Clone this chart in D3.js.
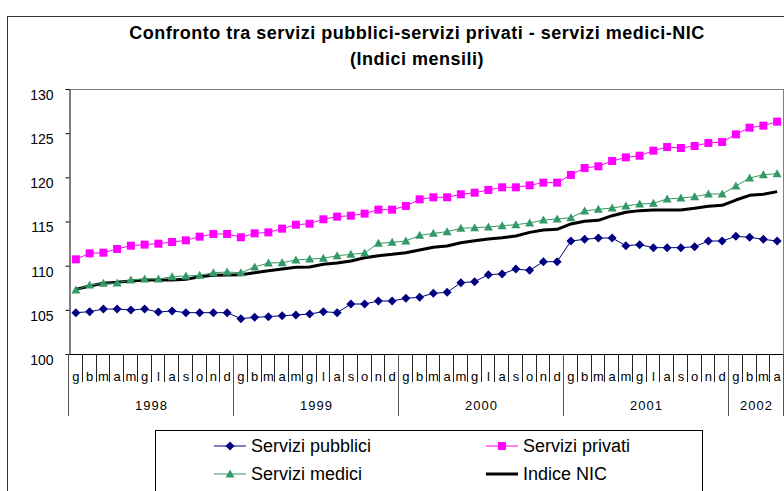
<!DOCTYPE html>
<html>
<head>
<meta charset="utf-8">
<script src="https://cdn.jsdelivr.net/npm/d3@7"></script>
<style>
  body { margin: 0; background: #fff; }
  svg { display: block; }
  text { font-family: "Liberation Sans", Arial, sans-serif; fill: #000; }
</style>
</head>
<body>
<div id="chart"></div>
<script>
// month initials used on the axis, years and how many months each one shows
const monthInitials = ['g', 'b', 'm', 'a', 'm', 'g', 'l', 'a', 's', 'o', 'n', 'd'];
const years = ['1998', '1999', '2000', '2001', '2002'];
const yearMonths = [12, 12, 12, 12, 4];
const yTicks = [100, 105, 110, 115, 120, 125, 130];

// monthly indices, jan 1998 - apr 2002
const pubblici = [
  104.68, 104.79, 105.09, 105.09, 104.98, 105.09, 104.75, 104.87, 104.68, 104.68, 104.68, 104.68,
  104.00, 104.15, 104.23, 104.34, 104.42, 104.53, 104.79, 104.68, 105.66, 105.66, 106.00, 106.00,
  106.30, 106.42, 106.87, 106.98, 108.07, 108.19, 108.98, 109.06, 109.62, 109.47, 110.45, 110.45,
  112.79, 112.98, 113.13, 113.13, 112.26, 112.38, 112.04, 112.04, 112.04, 112.15, 112.79, 112.79,
  113.32, 113.21, 112.98, 112.79
];
const privati = [
  110.72, 111.40, 111.47, 111.89, 112.26, 112.38, 112.49, 112.68, 112.87, 113.28, 113.59, 113.59,
  113.21, 113.66, 113.77, 114.19, 114.64, 114.75, 115.25, 115.55, 115.66, 115.89, 116.34, 116.34,
  116.76, 117.51, 117.74, 117.74, 118.08, 118.26, 118.57, 118.87, 118.87, 119.10, 119.40, 119.40,
  120.27, 121.06, 121.25, 121.85, 122.26, 122.45, 123.02, 123.43, 123.32, 123.55, 123.89, 124.00,
  124.87, 125.62, 125.85, 126.30
];
const medici = [
  107.25, 107.81, 108.00, 108.04, 108.38, 108.49, 108.49, 108.75, 108.83, 108.91, 109.20, 109.28,
  109.20, 109.85, 110.30, 110.34, 110.64, 110.75, 110.83, 111.13, 111.28, 111.43, 112.53, 112.64,
  112.79, 113.43, 113.66, 113.85, 114.23, 114.30, 114.38, 114.53, 114.64, 114.83, 115.17, 115.28,
  115.43, 116.19, 116.38, 116.53, 116.76, 116.98, 117.06, 117.55, 117.66, 117.81, 118.11, 118.11,
  119.02, 119.92, 120.30, 120.41
];
const nic = [
  107.32, 107.70, 108.00, 108.11, 108.26, 108.38, 108.38, 108.38, 108.45, 108.75, 108.91, 108.94,
  108.98, 109.20, 109.43, 109.62, 109.81, 109.85, 110.15, 110.30, 110.53, 110.90, 111.13, 111.28,
  111.47, 111.77, 112.08, 112.23, 112.60, 112.83, 113.02, 113.17, 113.36, 113.77, 114.04, 114.11,
  114.72, 115.02, 115.13, 115.66, 116.04, 116.23, 116.30, 116.30, 116.30, 116.49, 116.72, 116.83,
  117.43, 117.96, 118.08, 118.38
];

(function() {
const width = 784, height = 491;
const plotLeft = 69, plotRight = 784, plotTop = 89, plotBottom = 354;

const svg = d3.select('#chart').append('svg')
  .attr('width', width)
  .attr('height', height);

// outer frame of the chart (runs off the picture on right and bottom)
svg.append('rect')
  .attr('x', 7.5).attr('y', 16.5)
  .attr('width', 900).attr('height', 600)
  .attr('fill', 'none').attr('stroke', '#333').attr('stroke-width', 1);

// title
svg.append('text')
  .attr('x', 417).attr('y', 39)
  .attr('text-anchor', 'middle')
  .attr('font-size', '18px').attr('font-weight', 'bold')
  .attr('letter-spacing', '0.5px')
  .text('Confronto tra servizi pubblici-servizi privati - servizi medici-NIC');
svg.append('text')
  .attr('x', 417).attr('y', 65)
  .attr('text-anchor', 'middle')
  .attr('font-size', '18px').attr('font-weight', 'bold')
  .attr('letter-spacing', '0.5px')
  .text('(Indici mensili)');

let n = pubblici.length;
let x = d3.scaleBand().domain(d3.range(n)).range([plotLeft, plotRight]);
let y = d3.scaleLinear().domain([100, 130]).range([plotBottom, plotTop]);
let cx = i => x(i) + x.bandwidth() / 2;

// plot frame: top and right edges in grey
svg.append('line')
  .attr('x1', plotLeft).attr('x2', plotRight).attr('y1', plotTop + 0.5).attr('y2', plotTop + 0.5)
  .attr('stroke', '#808080');
svg.append('line')
  .attr('x1', plotRight - 0.5).attr('x2', plotRight - 0.5).attr('y1', plotTop).attr('y2', plotBottom)
  .attr('stroke', '#808080');

// y axis
let yAxis = svg.append('g')
  .attr('transform', 'translate(' + (plotLeft + 0.5) + ',0)')
  .call(d3.axisLeft(y).tickValues(yTicks).tickSize(4).tickSizeOuter(0).tickPadding(12));
yAxis.select('.domain').attr('stroke', '#000');
yAxis.selectAll('.tick line').attr('stroke', '#000');
yAxis.selectAll('.tick text')
  .attr('font-size', '14px')
  .attr('font-family', '"Liberation Sans", Arial, sans-serif')
  .attr('transform', 'translate(0,6)');

// x axis: month cells and year groups
svg.append('line')
  .attr('x1', plotLeft).attr('x2', plotRight).attr('y1', plotBottom + 0.5).attr('y2', plotBottom + 0.5)
  .attr('stroke', '#000');

let yearStarts = [0];
yearMonths.forEach((m, i) => yearStarts.push(yearStarts[i] + m));

let bounds = d3.range(n + 1);
svg.append('g').selectAll('line')
  .data(bounds)
  .enter().append('line')
  .attr('x1', d => Math.round(d < n ? x(d) : plotRight) - 0.5)
  .attr('x2', d => Math.round(d < n ? x(d) : plotRight) - 0.5)
  .attr('y1', plotBottom)
  .attr('y2', d => yearStarts.includes(d) ? 416 : 382)
  .attr('stroke', d => yearStarts.includes(d) ? '#555' : '#222');

svg.append('g').selectAll('text')
  .data(d3.range(n))
  .enter().append('text')
  .attr('x', d => cx(d))
  .attr('y', 381)
  .attr('text-anchor', 'middle')
  .attr('font-size', '13px')
  .text(d => monthInitials[d % 12]);

svg.append('g').selectAll('text')
  .data(years)
  .enter().append('text')
  .attr('x', (d, i) => {
    let a = x(yearStarts[i]);
    let b = yearStarts[i + 1] < n ? x(yearStarts[i + 1]) : plotRight;
    return (a + b) / 2;
  })
  .attr('y', 410)
  .attr('text-anchor', 'middle')
  .attr('font-size', '13px')
  .attr('letter-spacing', '1px')
  .text(d => d);

// markers
let diamond = 'M0,-4.5L4.5,0L0,4.5L-4.5,0Z';
let square = 'M-4,-4H4V4H-4Z';
let triangle = 'M0,-4.5L4.5,3.5H-4.5Z';

let series = [
  { name: 'Indice NIC', values: nic, color: '#000', width: 3, marker: null },
  { name: 'Servizi medici', values: medici, color: '#339966', width: 1, marker: triangle },
  { name: 'Servizi privati', values: privati, color: '#FF00FF', width: 1, marker: square },
  { name: 'Servizi pubblici', values: pubblici, color: '#000080', width: 1, marker: diamond }
];

let line = d3.line()
  .x((d, i) => cx(i))
  .y(d => y(d));

series.forEach(s => {
  svg.append('path')
    .datum(s.values)
    .attr('d', line)
    .attr('fill', 'none')
    .attr('stroke', s.color)
    .attr('stroke-width', s.width)
    .attr('stroke-linejoin', 'round');
  if (s.marker) {
    svg.append('g').selectAll('path')
      .data(s.values)
      .enter().append('path')
      .attr('d', s.marker)
      .attr('transform', (d, i) => 'translate(' + cx(i) + ',' + y(d) + ')')
      .attr('fill', s.color);
  }
});

// legend
svg.append('rect')
  .attr('x', 155.5).attr('y', 430.5)
  .attr('width', 547).attr('height', 100)
  .attr('fill', '#fff').attr('stroke', '#000');

let legendItems = [
  { s: series[3], lx: 214, ly: 446 },
  { s: series[2], lx: 486, ly: 446 },
  { s: series[1], lx: 214, ly: 474 },
  { s: series[0], lx: 486, ly: 474 }
];

let lg = svg.append('g').selectAll('g')
  .data(legendItems)
  .enter().append('g')
  .attr('transform', d => 'translate(' + d.lx + ',' + d.ly + ')');

lg.append('line')
  .attr('x1', 0).attr('x2', 32)
  .attr('stroke', d => d.s.color)
  .attr('stroke-width', d => d.s.width);
lg.filter(d => d.s.marker)
  .append('path')
  .attr('d', d => d.s.marker)
  .attr('transform', 'translate(16,0)')
  .attr('fill', d => d.s.color);
lg.append('text')
  .attr('x', 37)
  .attr('dy', '0.35em')
  .attr('font-size', '18px')
  .text(d => d.s.name);
})();
</script>
</body>
</html>
